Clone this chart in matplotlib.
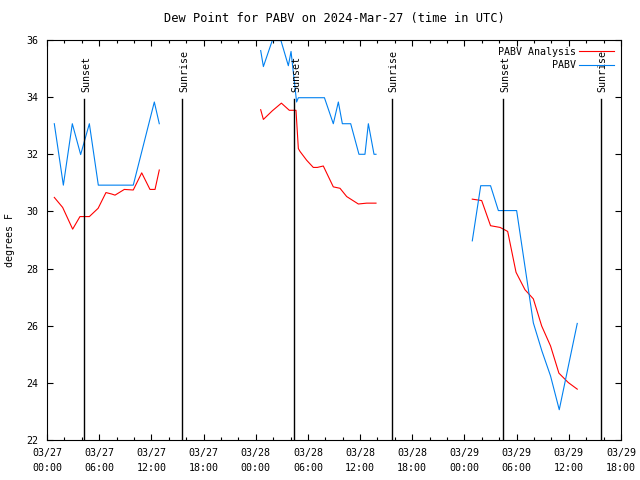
import numpy as np
import matplotlib
matplotlib.use('Agg')
import matplotlib.pyplot as plt

# hours since 03/27 00:00 UTC, dew point in F
obs_hours = [
    [0.84, 1.88, 2.91, 3.87, 4.87, 5.9, 9.92, 12.34, 12.91],
    [24.57, 24.88, 25.9, 26.9, 27.75, 28.06, 28.7, 28.9, 31.9, 32.92, 33.5, 33.96,
     34.92, 35.87, 36.56, 36.95, 37.6, 37.83],
    [48.9, 49.87, 51.0, 51.9, 54.0, 55.92, 56.9, 57.9, 58.9, 60.97],
]
obs_vals = [
    [33.07, 30.92, 33.07, 31.99, 33.07, 30.92, 30.92, 33.83, 33.07],
    [35.63, 35.07, 35.98, 35.98, 35.1, 35.6, 33.83, 33.98, 33.98, 33.07, 33.83, 33.07,
     33.07, 32.0, 32.0, 33.07, 32.0, 32.0],
    [28.97, 30.9, 30.9, 30.03, 30.03, 26.1, 25.12, 24.24, 23.06, 26.08],
]

ana_hours = [
    [0.84, 1.8, 2.95, 3.79, 4.87, 5.88, 6.78, 7.43, 7.82, 8.89, 9.92, 10.89, 11.84,
     12.42, 12.91],
    [24.57, 24.88, 25.9, 26.95, 27.86, 28.63, 28.9, 29.09, 29.86, 30.62, 31.08, 31.77,
     32.92, 33.69, 34.46, 35.8, 36.76, 37.83],
    [48.9, 49.98, 51.0, 52.1, 52.97, 53.93, 54.96, 55.92, 56.88, 57.9, 58.86, 59.94,
     60.97],
]
ana_vals = [
    [30.49, 30.14, 29.38, 29.82, 29.82, 30.11, 30.66, 30.61, 30.57, 30.77, 30.75, 31.35,
     30.77, 30.77, 31.45],
    [33.56, 33.22, 33.52, 33.79, 33.54, 33.54, 32.2, 32.1, 31.79, 31.54, 31.54, 31.59,
     30.86, 30.81, 30.52, 30.26, 30.29, 30.29],
    [30.43, 30.38, 29.5, 29.44, 29.3, 27.87, 27.26, 26.94, 25.99, 25.29, 24.34, 24.01,
     23.78],
]

sunset = [4.29, 28.44, 52.47]
sunrise = [15.56, 39.63, 63.66]

xtick_hours = [0, 6, 12, 18, 24, 30, 36, 42, 48, 54, 60, 66]
xtick_labels = ['03/27\n00:00', '03/27\n06:00', '03/27\n12:00', '03/27\n18:00',
                '03/28\n00:00', '03/28\n06:00', '03/28\n12:00', '03/28\n18:00',
                '03/29\n00:00', '03/29\n06:00', '03/29\n12:00', '03/29\n18:00']

plt.rcParams['font.family'] = 'DejaVu Sans Mono'
plt.rcParams['font.size'] = 7.2

fig = plt.figure(figsize=(6.4, 4.8), dpi=100)
ax = fig.add_axes([47/640, 40/480, 574/640, 400/480])

red = '#ff0000'
blue = '#0080f0'

for i in range(len(ana_hours)):
    ax.plot(ana_hours[i], ana_vals[i], color=red, lw=0.8,
            label='PABV Analysis' if i == 0 else None)
for i in range(len(obs_hours)):
    ax.plot(obs_hours[i], obs_vals[i], color=blue, lw=0.8,
            label='PABV' if i == 0 else None)

for h in sunset:
    ax.plot([h, h], [22, 33.92], color='black', lw=1)
    ax.text(h + 0.2, 34.17, 'Sunset', rotation=90, ha='center', va='bottom')
for h in sunrise:
    ax.plot([h, h], [22, 33.92], color='black', lw=1)
    ax.text(h + 0.2, 34.17, 'Sunrise', rotation=90, ha='center', va='bottom')

ax.set_xlim(0, 66)
ax.set_ylim(22, 36)
ax.set_xticks(xtick_hours)
ax.set_xticklabels(xtick_labels, linespacing=1.6)
ax.set_xticks(np.arange(0, 67, 2), minor=True)
ax.set_yticks(np.arange(22, 37, 2))
ax.tick_params(which='both', direction='in', top=True, right=True, width=0.8)
ax.tick_params(which='major', length=4.5)
ax.tick_params(axis='x', which='major', pad=6)
ax.tick_params(axis='y', which='major', pad=6)
ax.tick_params(which='minor', length=2)
for s in ax.spines.values():
    s.set_linewidth(0.8)

ax.set_ylabel('degrees F')
ax.yaxis.set_label_coords(-(47 - 15) / 574, 0.5)
ax.set_title('Dew Point for PABV on 2024-Mar-27 (time in UTC)', pad=13)

ax.legend(loc='upper right', frameon=False, markerfirst=False, handlelength=3.5,
          handletextpad=0.3, labelspacing=0.35, borderaxespad=0.3)

fig.savefig('out.png', dpi=100)
